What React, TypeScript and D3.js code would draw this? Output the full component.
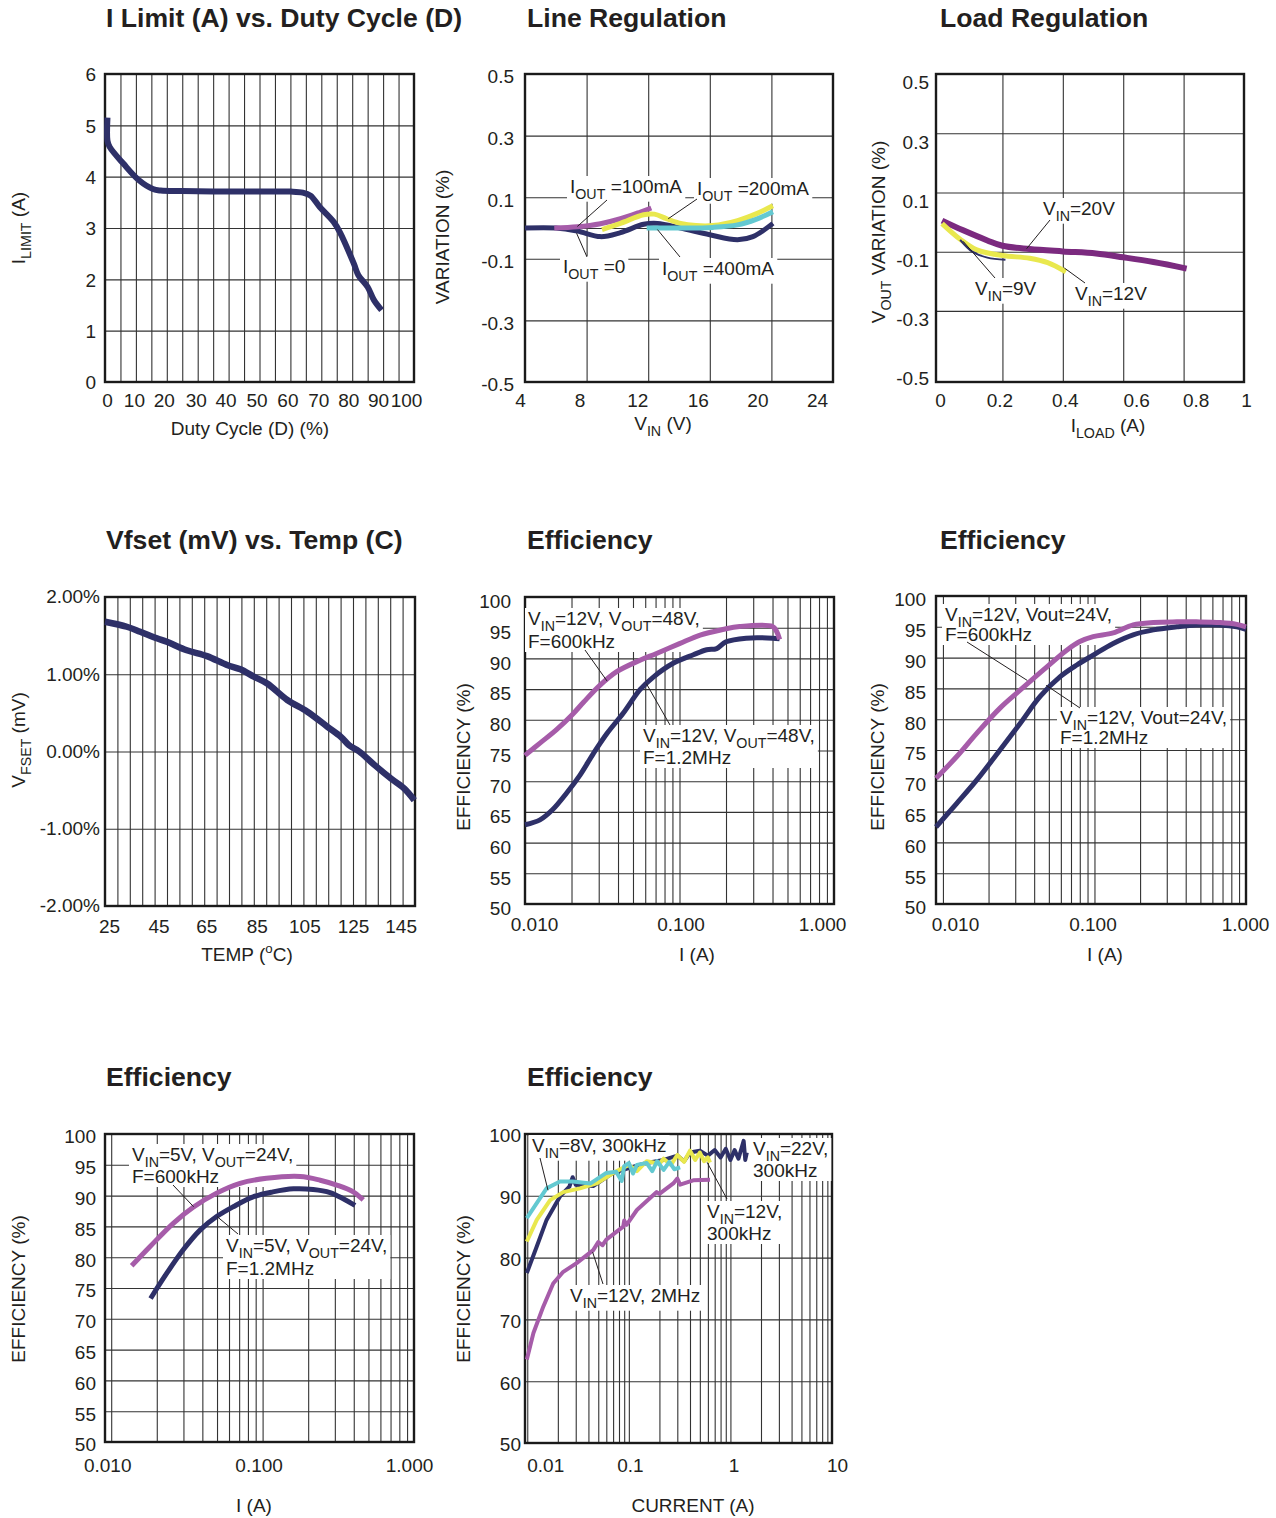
import { useEffect, useRef } from 'react';
import * as d3 from 'd3';

const NAVY = '#2e3068';
const MAGENTA = '#a65ca9';
const YELLOW = '#e9e84e';
const CYAN = '#63c9d1';
const PURPLE = '#7b2a7f';
const GRID = '#333';
const INK = '#231f20';
const FONT = "'Liberation Sans', Arial, Helvetica, sans-serif";

// I limit vs duty cycle
const dutyCycle = [0.8, 0.8, 1.5, 6, 11, 15.5, 18, 25, 35, 50, 60, 64, 66.5, 69.5, 74, 76, 80.5, 82, 85, 87, 89.5];
const iLimit = [5.15, 4.7, 4.58, 4.25, 3.93, 3.76, 3.73, 3.72, 3.71, 3.71, 3.71, 3.69, 3.63, 3.41, 3.12, 2.92, 2.31, 2.08, 1.85, 1.6, 1.4];

// Line regulation
const lrVin0 = [4, 6, 7.4, 8.9, 10.2, 11.7, 12.6, 14.1, 16, 17.8, 18.8, 20.1];
const lrVar0 = [0, 0, -0.01, -0.028, -0.015, 0.012, 0.015, 0, -0.022, -0.038, -0.028, 0.015];
const lrVin100 = [5.9, 7.4, 8.9, 10.2, 11.5, 12.2];
const lrVar100 = [0, 0.004, 0.014, 0.03, 0.052, 0.065];
const lrVin200 = [9, 10.2, 11.7, 12.4, 13.2, 14.1, 15.1, 16.2, 17.8, 19, 20.1];
const lrVar200 = [-0.005, 0.015, 0.043, 0.045, 0.03, 0.015, 0.008, 0.008, 0.024, 0.046, 0.072];
const lrVin400 = [11.9, 14, 16.2, 17.8, 19, 20.1];
const lrVar400 = [0, 0, 0.002, 0.01, 0.028, 0.053];

// Load regulation
const ldI20 = [0, 0.07, 0.15, 0.2, 0.29, 0.4, 0.51, 0.6, 0.7, 0.81];
const ldV20 = [0.005, -0.028, -0.062, -0.08, -0.091, -0.099, -0.106, -0.119, -0.135, -0.157];
const ldI12 = [0, 0.06, 0.115, 0.2, 0.29, 0.35, 0.41];
const ldV12 = [-0.005, -0.058, -0.094, -0.113, -0.122, -0.137, -0.168];
const ldI9 = [0.06, 0.1, 0.15, 0.21];
const ldV9 = [-0.06, -0.1, -0.12, -0.127];

// Vfset vs temp
const temp = [25, 33.8, 39.2, 45.9, 49.9, 58, 66.1, 74.2, 79.6, 85, 90.4, 98.5, 106.6, 114.7, 120.1, 123.4, 127.5, 133.5, 140.3, 145.7, 149.7];
const vfset = [1.68, 1.615, 1.55, 1.465, 1.42, 1.31, 1.235, 1.12, 1.064, 0.97, 0.88, 0.667, 0.515, 0.32, 0.19, 0.08, 0.0, -0.17, -0.35, -0.48, -0.63];

// Efficiency, Vout = 48V
const e48I600 = [0.01, 0.0125, 0.016, 0.0205, 0.024, 0.0305, 0.039, 0.0555, 0.071, 0.1, 0.136, 0.19, 0.245, 0.4, 0.425, 0.445];
const e48E600 = [74.2, 76.2, 78.4, 81, 82.9, 85.6, 87.8, 89.7, 90.8, 92.4, 93.8, 94.7, 95.2, 95.2, 94.4, 93.1];
const e48I12 = [0.01, 0.0125, 0.015, 0.0185, 0.0227, 0.0277, 0.034, 0.0433, 0.0555, 0.068, 0.091, 0.123, 0.15, 0.174, 0.2, 0.27, 0.4, 0.445];
const e48E12 = [62.9, 63.7, 65.3, 68, 71, 74.5, 77.8, 81.1, 84.9, 87, 89.2, 90.6, 91.4, 91.6, 92.7, 93.3, 93.3, 93.2];

// Efficiency, Vout = 24V
const e24I600 = [0.009, 0.0123, 0.0167, 0.0238, 0.0323, 0.046, 0.0656, 0.08, 0.098, 0.133, 0.18, 0.245, 0.35, 0.47, 0.675, 0.87, 1.0];
const e24E600 = [70.4, 73.9, 77.7, 81.8, 84.7, 88.0, 91.2, 92.6, 93.4, 94.0, 95.3, 95.7, 95.8, 95.8, 95.7, 95.4, 95.0];
const e24I12 = [0.009, 0.0123, 0.0167, 0.0238, 0.0323, 0.0438, 0.0594, 0.0765, 0.098, 0.133, 0.18, 0.245, 0.35, 0.47, 0.675, 0.87, 1.0];
const e24E12 = [62.5, 66.3, 70.1, 75.0, 79.3, 83.7, 86.9, 88.8, 90.4, 92.3, 93.7, 94.5, 95.0, 95.3, 95.3, 95.0, 94.6];

// Efficiency, Vin = 5V
const e5I600 = [0.01365, 0.018, 0.0257, 0.0348, 0.0497, 0.0709, 0.106, 0.177, 0.24, 0.309, 0.397, 0.462];
const e5E600 = [78.6, 81.7, 85.5, 88.1, 90.4, 92.0, 92.8, 93.1, 92.5, 91.7, 90.6, 89.3];
const e5I12 = [0.0182, 0.0233, 0.0299, 0.0386, 0.0497, 0.064, 0.0866, 0.117, 0.16, 0.216, 0.279, 0.341, 0.408];
const e5E12 = [73.3, 77.4, 81.2, 84.4, 86.6, 88.2, 89.8, 90.6, 91.1, 91.0, 90.5, 89.5, 88.4];

// Efficiency vs current
const cI22 = [0.0099, 0.0124, 0.0155, 0.021, 0.026, 0.028, 0.03, 0.045, 0.07, 0.1, 0.15, 0.22, 0.3, 0.35, 0.4, 0.5, 0.6, 0.7, 0.8, 0.9, 1.0, 1.1, 1.2, 1.35, 1.4, 1.45];
const cE22 = [77.5, 81.8, 86.1, 89.9, 91.5, 93.0, 91.8, 91.6, 93.7, 94.5, 95.3, 95.8, 96.5, 95.6, 97.0, 97.3, 96.5, 97.4, 96.2, 97.6, 95.8, 97.4, 96.0, 98.9, 95.8, 97.0];
const cI12 = [0.0099, 0.0124, 0.0168, 0.0226, 0.033, 0.048, 0.07, 0.1, 0.12, 0.15, 0.2, 0.22, 0.26, 0.3, 0.35, 0.4, 0.45, 0.5, 0.55, 0.6, 0.63];
const cE12 = [82.6, 86.1, 89.3, 90.6, 91.2, 92.0, 93.7, 95.0, 94.0, 95.6, 95.2, 96.0, 95.0, 96.6, 95.5, 97.3, 95.8, 97.0, 95.6, 96.2, 95.4];
const cI8 = [0.0099, 0.0124, 0.0155, 0.021, 0.028, 0.042, 0.06, 0.075, 0.085, 0.09, 0.1, 0.11, 0.12, 0.15, 0.17, 0.19, 0.22, 0.25, 0.28, 0.32];
const cE8 = [86.4, 88.8, 91.2, 92.3, 92.3, 92.0, 93.7, 93.9, 92.4, 94.8, 95.3, 93.6, 95.0, 95.3, 94.0, 95.6, 94.2, 95.5, 94.3, 94.6];
const cI2M = [0.0099, 0.0115, 0.0144, 0.018, 0.0226, 0.0306, 0.0446, 0.05, 0.055, 0.06, 0.088, 0.09, 0.095, 0.12, 0.188, 0.2, 0.274, 0.3, 0.32, 0.43, 0.63];
const cE2M = [63.5, 67.8, 72.1, 75.8, 77.7, 79.1, 81.2, 82.5, 82.0, 82.9, 85.0, 86.0, 85.3, 87.7, 90.6, 90.3, 92.0, 92.8, 91.8, 92.5, 92.6];

function logGrid([a, b]: number[]) {
  const out: number[] = [];
  for (let e = Math.floor(Math.log10(a)); e <= Math.ceil(Math.log10(b)); e++) {
    for (let k = 1; k <= 9; k++) {
      const v = k * 10 ** e;
      if (v > a * 1.001 && v < b * 0.999) out.push(v);
    }
  }
  return out;
}

// text with _{sub} and ^{sup} pieces
function rich(text: any, str: string, fs: number) {
  const parts = str.split(/(_\{[^}]*\}|\^\{[^}]*\})/).filter((s) => s.length);
  let shift = 0;
  parts.forEach((s) => {
    const t = text.append('tspan');
    let target = 0;
    if (s.startsWith('_{')) {
      target = fs * 0.3;
      t.attr('font-size', fs * 0.75).text(s.slice(2, -1));
    } else if (s.startsWith('^{')) {
      target = -fs * 0.4;
      t.attr('font-size', fs * 0.7).text(s.slice(2, -1));
    } else {
      t.text(s);
    }
    if (target !== shift) {
      t.attr('dy', target - shift);
      shift = target;
    }
  });
}

function drawPanel(svg: any, p: any) {
  const root = svg.append('g');
  const gridL = root.append('g');
  const boxL = root.append('g');
  const seriesL = root.append('g');
  const leaderL = root.append('g');
  const textL = root.append('g');
  const bottom = p.top + p.height;

  // grid
  gridL
    .append('g')
    .attr('transform', `translate(0,${bottom})`)
    .call(d3.axisBottom(p.x).tickValues(p.xGrid).tickSize(-p.height).tickFormat(() => ''))
    .call((g: any) => g.select('.domain').remove())
    .selectAll('line')
    .attr('stroke', GRID)
    .attr('stroke-width', 1.1);
  gridL
    .append('g')
    .attr('transform', `translate(${p.left},0)`)
    .call(d3.axisLeft(p.y).tickValues(p.yGrid).tickSize(-p.width).tickFormat(() => ''))
    .call((g: any) => g.select('.domain').remove())
    .selectAll('line')
    .attr('stroke', GRID)
    .attr('stroke-width', 1.1);
  gridL
    .append('rect')
    .attr('x', p.left)
    .attr('y', p.top)
    .attr('width', p.width)
    .attr('height', p.height)
    .attr('fill', 'none')
    .attr('stroke', '#1a1a1a')
    .attr('stroke-width', 2.4);

  // curves
  p.series.forEach((s: any) => {
    const pts = s.x.map((v: number, i: number) => [v, s.y[i]]);
    const line = d3
      .line<number[]>()
      .x((d) => p.x(d[0]))
      .y((d) => p.y(d[1]))
      .curve(s.curve ?? d3.curveCatmullRom.alpha(0.5));
    seriesL
      .append('path')
      .attr('d', line(pts))
      .attr('fill', 'none')
      .attr('stroke', s.color)
      .attr('stroke-width', s.width)
      .attr('stroke-linejoin', 'round');
  });

  // tick labels
  const xa = textL
    .append('g')
    .attr('transform', `translate(0,${p.xTickY})`)
    .call(d3.axisBottom(p.x).tickValues(p.xTicks).tickSize(0).tickPadding(0).tickFormat(p.xFmt));
  xa.select('.domain').remove();
  xa.attr('font-family', FONT).attr('font-size', 19);
  xa.selectAll('text')
    .attr('fill', INK)
    .attr('dy', '0.36em')
    .attr('dx', (_: any, i: number) => (p.xTickDx ? p.xTickDx[i] : 0));

  const ya = textL
    .append('g')
    .attr('transform', `translate(${p.yTickX},0)`)
    .call(d3.axisLeft(p.y).tickValues(p.yTicks).tickSize(0).tickPadding(0).tickFormat(p.yFmt));
  ya.select('.domain').remove();
  ya.attr('font-family', FONT).attr('font-size', 19);
  ya.selectAll('text').attr('fill', INK).attr('dy', '0.36em').attr('y', p.yTickDy);

  // titles
  textL
    .append('text')
    .attr('x', p.titleX)
    .attr('y', p.titleY)
    .attr('font-size', 26.6)
    .attr('font-weight', 'bold')
    .attr('fill', INK)
    .text(p.title);
  const xt = textL
    .append('text')
    .attr('x', p.xTitleX)
    .attr('y', p.xTitleY)
    .attr('text-anchor', 'middle')
    .attr('font-size', 19)
    .attr('fill', INK);
  rich(xt, p.xTitle, 19);
  const yt = textL
    .append('text')
    .attr('transform', `translate(${p.yTitleX},${p.yTitleY}) rotate(-90)`)
    .attr('text-anchor', 'middle')
    .attr('font-size', 19)
    .attr('fill', INK);
  rich(yt, p.yTitle, 19);

  // annotations
  p.notes.forEach((n: any) => {
    const g = textL.append('g').attr('font-size', 19).attr('fill', INK);
    n.lines.forEach((ln: string, i: number) => {
      const t = g
        .append('text')
        .attr('x', p.left + n.dx)
        .attr('y', p.top + n.dy + i * (n.lineH ?? 22));
      rich(t, ln, 19);
    });
    const bb = g.node().getBBox();
    boxL
      .append('rect')
      .attr('x', bb.x - 3)
      .attr('y', bb.y)
      .attr('width', bb.width + 6)
      .attr('height', bb.height)
      .attr('fill', '#fff');
    if (n.leader) {
      leaderL
        .append('line')
        .attr('x1', p.left + n.leader.from[0])
        .attr('y1', p.top + n.leader.from[1])
        .attr('x2', p.x(n.leader.to[0]))
        .attr('y2', p.y(n.leader.to[1]))
        .attr('stroke', INK)
        .attr('stroke-width', 1);
    }
  });
}

export default function App() {
  const svgRef = useRef<SVGSVGElement>(null);

  useEffect(() => {
    if (!svgRef.current) return;
    const svg = d3.select(svgRef.current);
    svg.selectAll('*').remove();
    svg.attr('font-family', FONT);

    const f1 = (v: number) => v.toFixed(1);
    const eff = (v: number) => String(v);

    const panels = [
      {
        title: 'I Limit (A) vs. Duty Cycle (D)', titleX: 106, titleY: 27,
        left: 105, top: 74, width: 309, height: 308,
        x: d3.scaleLinear().domain([0, 100]).range([105, 414]),
        y: d3.scaleLinear().domain([0, 6]).range([382, 74]),
        xGrid: d3.range(5, 100, 5), yGrid: [1, 2, 3, 4, 5],
        xTicks: d3.range(0, 101, 10), xFmt: eff, xTickDx: [2, -2, -3, -2, -3, -3, -3, -3, -4, -5, -8], xTickY: 400,
        yTicks: [0, 1, 2, 3, 4, 5, 6], yFmt: eff, yTickX: 96, yTickDy: 0,
        xTitle: 'Duty Cycle (D) (%)', xTitleX: 250, xTitleY: 435,
        yTitle: 'I_{LIMIT} (A)', yTitleX: 25, yTitleY: 228,
        series: [{ x: dutyCycle, y: iLimit, color: NAVY, width: 6 }],
        notes: [],
      },
      {
        title: 'Line Regulation', titleX: 527, titleY: 27,
        left: 525, top: 74, width: 308, height: 308,
        x: d3.scaleLinear().domain([4, 24]).range([525, 833]),
        y: d3.scaleLinear().domain([-0.5, 0.5]).range([382, 74]),
        xGrid: [8, 12, 16, 20], yGrid: [-0.3, -0.1, 0, 0.1, 0.3],
        xTicks: [4, 8, 12, 16, 20, 24], xFmt: eff, xTickDx: [-5, -7, -11, -12, -14, -16], xTickY: 400,
        yTicks: [-0.5, -0.3, -0.1, 0.1, 0.3, 0.5], yFmt: f1, yTickX: 514, yTickDy: 2,
        xTitle: 'V_{IN} (V)', xTitleX: 663, xTitleY: 430,
        yTitle: 'VARIATION (%)', yTitleX: 449, yTitleY: 237,
        series: [
          { x: lrVin0, y: lrVar0, color: NAVY, width: 5 },
          { x: lrVin100, y: lrVar100, color: MAGENTA, width: 5 },
          { x: lrVin200, y: lrVar200, color: YELLOW, width: 5 },
          { x: lrVin400, y: lrVar400, color: CYAN, width: 5 },
        ],
        notes: [
          { lines: ['I_{OUT} =100mA'], dx: 45, dy: 119, leader: { from: [82, 126], to: [7.4, 0.005] } },
          { lines: ['I_{OUT} =200mA'], dx: 172, dy: 121, leader: { from: [172, 125], to: [13.3, 0.03] } },
          { lines: ['I_{OUT} =0'], dx: 38, dy: 199, leader: { from: [62, 183], to: [7.35, -0.017] } },
          { lines: ['I_{OUT} =400mA'], dx: 137, dy: 201, leader: { from: [155, 183], to: [12.6, -0.005] } },
        ],
      },
      {
        title: 'Load Regulation', titleX: 940, titleY: 27,
        left: 936, top: 74, width: 308, height: 308,
        x: d3.scaleLinear().domain([-0.02, 1]).range([936, 1244]),
        y: d3.scaleLinear().domain([-0.54, 0.5]).range([382, 74]),
        xGrid: [0.2, 0.4, 0.6, 0.8], yGrid: [-0.3, -0.1, 0.1, 0.3],
        xTicks: [0, 0.2, 0.4, 0.6, 0.8, 1], xFmt: (v: number) => (v === 0 || v === 1 ? String(v) : v.toFixed(1)),
        xTickDx: [-2, -3, 2, 13, 12, 2], xTickY: 400,
        yTicks: [-0.5, -0.3, -0.1, 0.1, 0.3, 0.5], yFmt: f1, yTickX: 929, yTickDy: 8,
        xTitle: 'I_{LOAD} (A)', xTitleX: 1108, xTitleY: 432,
        yTitle: 'V_{OUT} VARIATION (%)', yTitleX: 885, yTitleY: 232,
        series: [
          { x: ldI20, y: ldV20, color: PURPLE, width: 6 },
          { x: ldI12, y: ldV12, color: YELLOW, width: 5 },
          { x: ldI9, y: ldV9, color: NAVY, width: 2 },
        ],
        notes: [
          { lines: ['V_{IN}=20V'], dx: 107, dy: 141, leader: { from: [114, 146], to: [0.28, -0.09] } },
          { lines: ['V_{IN}=9V'], dx: 39, dy: 221, leader: { from: [59, 204], to: [0.07, -0.065] } },
          { lines: ['V_{IN}=12V'], dx: 139, dy: 226, leader: { from: [149, 209], to: [0.405, -0.155] } },
        ],
      },
      {
        title: 'Vfset (mV) vs. Temp (C)', titleX: 106, titleY: 549,
        left: 105, top: 597, width: 310, height: 309,
        x: d3.scaleLinear().domain([25, 150]).range([105, 415]),
        y: d3.scaleLinear().domain([-2, 2]).range([906, 597]),
        xGrid: d3.range(30, 150, 5), yGrid: [-1, 0, 1],
        xTicks: [25, 45, 65, 85, 105, 125, 145], xFmt: eff, xTickDx: [4, 4, 2, 3, 1, 0, -2], xTickY: 926,
        yTicks: [-2, -1, 0, 1, 2], yFmt: (v: number) => v.toFixed(2) + '%', yTickX: 100, yTickDy: -1,
        xTitle: 'TEMP (^{o}C)', xTitleX: 247, xTitleY: 961,
        yTitle: 'V_{FSET} (mV)', yTitleX: 25, yTitleY: 740,
        series: [{ x: temp, y: vfset, color: NAVY, width: 6.5 }],
        notes: [],
      },
      {
        title: 'Efficiency', titleX: 527, titleY: 549,
        left: 525, top: 597, width: 309, height: 307,
        x: d3.scaleLog().domain([0.01, 1]).range([525, 834]),
        y: d3.scaleLinear().domain([50, 100]).range([904, 597]),
        xGrid: logGrid([0.01, 1]), yGrid: d3.range(55, 100, 5),
        xTicks: [0.01, 0.1, 1], xFmt: (v: number) => v.toFixed(3), xTickDx: [9, 1, -12], xTickY: 924,
        yTicks: d3.range(50, 101, 5), yFmt: eff, yTickX: 511, yTickDy: 4,
        xTitle: 'I (A)', xTitleX: 697, xTitleY: 961,
        yTitle: 'EFFICIENCY (%)', yTitleX: 470, yTitleY: 757,
        series: [
          { x: e48I12, y: e48E12, color: NAVY, width: 5 },
          { x: e48I600, y: e48E600, color: MAGENTA, width: 5 },
        ],
        notes: [
          { lines: ['V_{IN}=12V, V_{OUT}=48V,', 'F=600kHz'], dx: 3, dy: 28, lineH: 23, leader: { from: [60, 53], to: [0.034, 86.3] } },
          { lines: ['V_{IN}=12V, V_{OUT}=48V,', 'F=1.2MHz'], dx: 118, dy: 145, lineH: 22, leader: { from: [145, 128], to: [0.061, 85.9] } },
        ],
      },
      {
        title: 'Efficiency', titleX: 940, titleY: 549,
        left: 936, top: 596, width: 310, height: 308,
        x: d3.scaleLog().domain([0.009, 1]).range([936, 1246]),
        y: d3.scaleLinear().domain([50, 100]).range([904, 596]),
        xGrid: logGrid([0.009, 1]), yGrid: d3.range(55, 100, 5),
        xTicks: [0.01, 0.1, 1], xFmt: (v: number) => v.toFixed(3), xTickDx: [12, -2, -1], xTickY: 924,
        yTicks: d3.range(50, 101, 5), yFmt: eff, yTickX: 926, yTickDy: 3,
        xTitle: 'I (A)', xTitleX: 1105, xTitleY: 961,
        yTitle: 'EFFICIENCY (%)', yTitleX: 884, yTitleY: 757,
        series: [
          { x: e24I12, y: e24E12, color: NAVY, width: 5 },
          { x: e24I600, y: e24E600, color: MAGENTA, width: 5 },
        ],
        notes: [
          { lines: ['V_{IN}=12V, Vout=24V,', 'F=600kHz'], dx: 9, dy: 25, lineH: 20, leader: { from: [31, 46], to: [0.036, 86.3] } },
          { lines: ['V_{IN}=12V, Vout=24V,', 'F=1.2MHz'], dx: 124, dy: 128, lineH: 20, leader: { from: [144, 112], to: [0.048, 85.5] } },
        ],
      },
      {
        title: 'Efficiency', titleX: 106, titleY: 1086,
        left: 105, top: 1134, width: 309, height: 308,
        x: d3.scaleLog().domain([0.0091, 1]).range([105, 414]),
        y: d3.scaleLinear().domain([50, 100]).range([1442, 1134]),
        xGrid: logGrid([0.0091, 1]), yGrid: d3.range(55, 100, 5),
        xTicks: [0.01, 0.1, 1], xFmt: (v: number) => v.toFixed(3), xTickDx: [-4, -4, -5], xTickY: 1465,
        yTicks: d3.range(50, 101, 5), yFmt: eff, yTickX: 96, yTickDy: 2,
        xTitle: 'I (A)', xTitleX: 254, xTitleY: 1512,
        yTitle: 'EFFICIENCY (%)', yTitleX: 25, yTitleY: 1289,
        series: [
          { x: e5I12, y: e5E12, color: NAVY, width: 5 },
          { x: e5I600, y: e5E600, color: MAGENTA, width: 5 },
        ],
        notes: [
          { lines: ['V_{IN}=5V, V_{OUT}=24V,', 'F=600kHz'], dx: 27, dy: 27, lineH: 22, leader: { from: [68, 51], to: [0.035, 88.2] } },
          { lines: ['V_{IN}=5V, V_{OUT}=24V,', 'F=1.2MHz'], dx: 121, dy: 118, lineH: 23, leader: { from: [133, 100], to: [0.05, 86.6] } },
        ],
      },
      {
        title: 'Efficiency', titleX: 527, titleY: 1086,
        left: 525, top: 1134, width: 307, height: 309,
        x: d3.scaleLog().domain([0.0095, 10]).range([525, 832]),
        y: d3.scaleLinear().domain([50, 100]).range([1443, 1134]),
        xGrid: logGrid([0.0095, 10]), yGrid: [60, 70, 80, 90],
        xTicks: [0.01, 0.1, 1, 10], xFmt: eff, xTickDx: [18, 1, 3, 5], xTickY: 1465,
        yTicks: d3.range(50, 101, 10), yFmt: eff, yTickX: 521, yTickDy: 1,
        xTitle: 'CURRENT (A)', xTitleX: 693, xTitleY: 1512,
        yTitle: 'EFFICIENCY (%)', yTitleX: 470, yTitleY: 1289,
        series: [
          { x: cI22, y: cE22, color: NAVY, width: 4, curve: d3.curveLinear },
          { x: cI12, y: cE12, color: YELLOW, width: 4, curve: d3.curveLinear },
          { x: cI8, y: cE8, color: CYAN, width: 4, curve: d3.curveLinear },
          { x: cI2M, y: cE2M, color: MAGENTA, width: 4, curve: d3.curveLinear },
        ],
        notes: [
          { lines: ['V_{IN}=8V, 300kHz'], dx: 7, dy: 18, leader: { from: [15, 24], to: [0.016, 90.9] } },
          { lines: ['V_{IN}=22V,', '300kHz'], dx: 228, dy: 21, lineH: 22 },
          { lines: ['V_{IN}=12V,', '300kHz'], dx: 182, dy: 84, lineH: 22, leader: { from: [202, 65], to: [0.59, 95.4] } },
          { lines: ['V_{IN}=12V, 2MHz'], dx: 45, dy: 168, leader: { from: [78, 150], to: [0.044, 80.9] } },
        ],
      },
    ];

    panels.forEach((p) => drawPanel(svg, p));
  }, []);

  return (
    <svg
      ref={svgRef}
      width={1276}
      height={1518}
      style={{ position: 'absolute', left: 0, top: 0, background: '#fff' }}
    />
  );
}
